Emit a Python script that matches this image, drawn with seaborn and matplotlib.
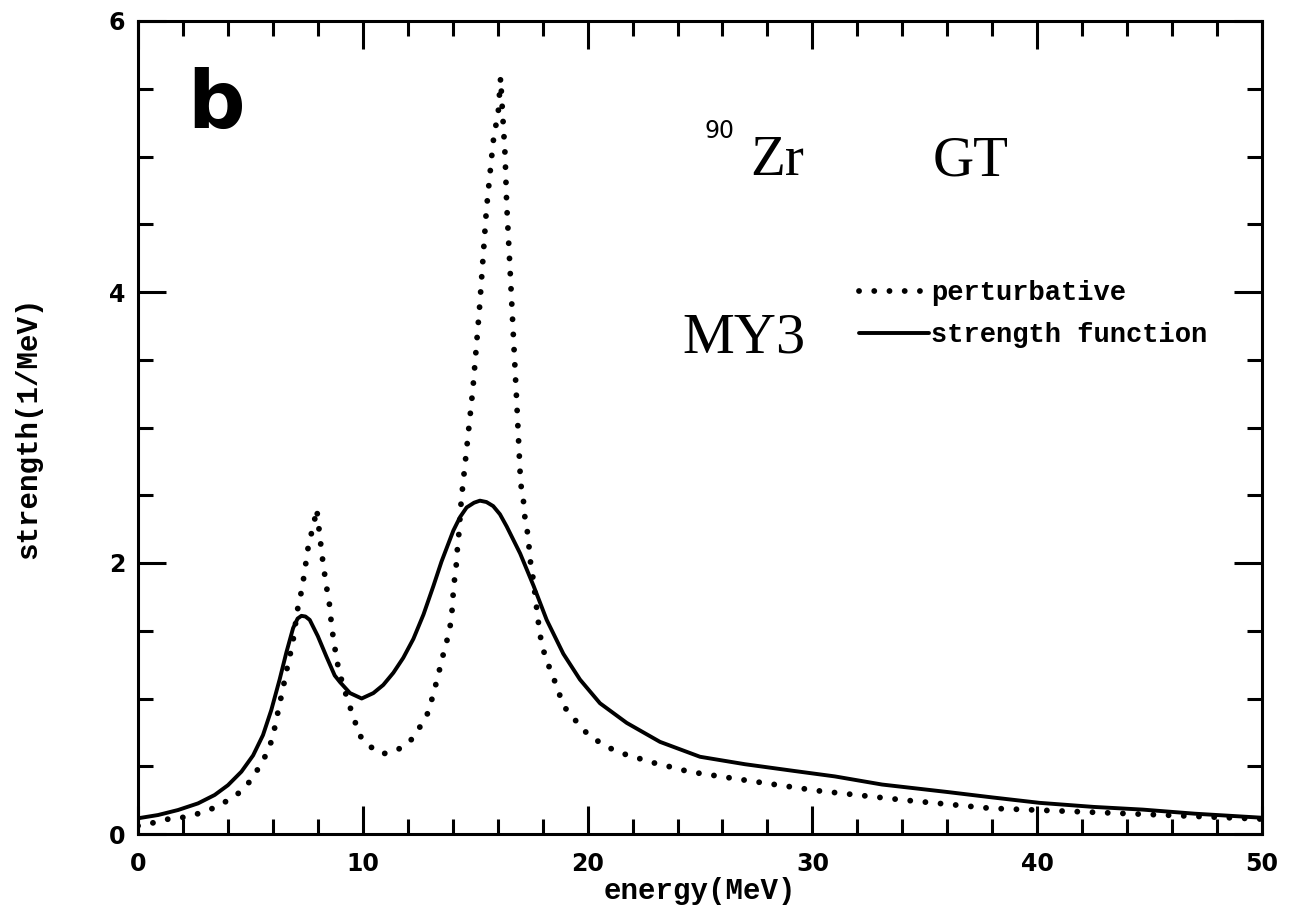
"""90Zr GT strength: perturbative vs strength function (MY3)."""
import matplotlib
matplotlib.use("Agg")
import matplotlib.pyplot as plt
from matplotlib.ticker import MultipleLocator
import seaborn as sns

# strength function (solid)
sf_energy = [0, 0.89, 1.78, 2.67, 3.41, 4.0, 4.6, 5.12, 5.56, 5.93, 6.3, 6.6,
             6.9, 7.1, 7.27, 7.45, 7.64, 8.0, 8.38, 8.75, 8.99, 9.43, 9.95, 10.47,
             10.91, 11.36, 11.8, 12.25, 12.7, 13.14, 13.5, 14.03, 14.33, 14.62,
             14.95, 15.21, 15.5, 15.8, 16.1, 16.4, 17.0, 17.6, 18.18, 18.92, 19.66,
             20.55, 21.74, 23.22, 25.0, 27.0, 29.2, 31.0, 33.1, 36.0, 38.0, 40.1,
             42.5, 44.7, 47.0, 50.0]
sf_strength = [0.116, 0.14, 0.177, 0.226, 0.288, 0.36, 0.46, 0.58, 0.73, 0.915,
               1.14, 1.34, 1.52, 1.59, 1.61, 1.605, 1.58, 1.46, 1.31, 1.17, 1.12,
               1.04, 1.00, 1.04, 1.10, 1.19, 1.30, 1.44, 1.62, 1.83, 2.01, 2.24,
               2.34, 2.41, 2.445, 2.46, 2.45, 2.42, 2.36, 2.27, 2.07, 1.83, 1.58,
               1.33, 1.14, 0.965, 0.82, 0.68, 0.57, 0.515, 0.465, 0.425, 0.365,
               0.31, 0.27, 0.23, 0.20, 0.18, 0.15, 0.12]

# perturbative (dotted)
pt_energy = [0, 0.59, 1.26, 1.93, 2.67, 3.34, 3.97, 4.55, 5.04, 5.41, 5.78, 6.0,
             6.15, 6.3, 6.45, 6.6, 6.75, 6.9, 7.12, 7.27, 7.4, 7.5, 7.6, 7.8, 7.95,
             8.1, 8.2, 8.3, 8.41, 8.53, 8.6, 8.7, 8.82, 8.94, 9.37, 9.61, 9.82,
             10.28, 10.87, 11.54, 12.13, 12.54, 12.9, 13.1, 13.29, 13.46, 13.63,
             13.83, 13.95, 14.0, 14.06, 14.15, 14.2, 14.27, 14.37, 14.44, 14.6,
             14.9, 15.2, 15.5, 15.8, 16.03, 16.13, 16.2, 16.33, 16.4, 16.55, 16.7,
             16.85, 17.02, 17.14, 17.2, 17.32, 17.4, 17.47, 17.59, 17.76, 17.85,
             17.97, 18.2, 18.47, 18.7, 18.98, 19.4, 19.9, 20.5, 21.1, 21.8, 22.45,
             23.15, 23.84, 24.5, 27.3, 30.2, 34.1, 37.9, 41.8, 45.6, 50.0]
pt_strength = [0.06, 0.079, 0.108, 0.12, 0.15, 0.19, 0.245, 0.31, 0.40, 0.50,
               0.61, 0.72, 0.84, 0.96, 1.075, 1.20, 1.31, 1.43, 1.68, 1.79, 1.92,
               2.04, 2.15, 2.27, 2.40, 2.18, 2.04, 1.92, 1.80, 1.68, 1.555, 1.43,
               1.31, 1.20, 0.965, 0.855, 0.735, 0.65, 0.59, 0.62, 0.69, 0.79,
               0.895, 1.01, 1.13, 1.245, 1.36, 1.48, 1.60, 1.73, 1.85, 1.97, 2.09,
               2.21, 2.44, 2.56, 2.81, 3.29, 3.90, 4.61, 5.11, 5.34, 5.58, 5.37,
               5.01, 4.65, 4.17, 3.67, 3.18, 2.59, 2.47, 2.35, 2.23, 2.11, 1.99,
               1.87, 1.63, 1.51, 1.39, 1.27, 1.16, 1.05, 0.935, 0.85, 0.755, 0.68,
               0.625, 0.58, 0.55, 0.515, 0.49, 0.46, 0.39, 0.32, 0.25, 0.19, 0.165,
               0.14, 0.11]

W, H = 1298, 908
L, R, T, B = 138, 1262, 21, 834


def fx(px):
    return (px - L) / (R - L)


def fy(py):
    return (B - py) / (B - T)


sns.set_theme(style="ticks")
plt.rcParams["font.family"] = ["DejaVu Sans"]

fig = plt.figure(figsize=(W / 100, H / 100), dpi=100)
ax = fig.add_axes([L / W, 1 - B / H, (R - L) / W, (B - T) / H])

sns.lineplot(x=pt_energy, y=pt_strength, ax=ax, color="black", lw=4.2,
             linestyle=(0, (0.01, 2.6)), dash_capstyle="round",
             label="perturbative")
sns.lineplot(x=sf_energy, y=sf_strength, ax=ax, color="black", lw=2.8,
             solid_joinstyle="round", label="strength function")

ax.set_xlim(0, 50)
ax.set_ylim(0, 6)
ax.xaxis.set_major_locator(MultipleLocator(10))
ax.xaxis.set_minor_locator(MultipleLocator(2))
ax.yaxis.set_major_locator(MultipleLocator(2))
ax.yaxis.set_minor_locator(MultipleLocator(0.5))
ax.tick_params(which="both", direction="in", top=True, right=True,
               width=2.2, color="black")
ax.tick_params(which="major", length=20)
ax.tick_params(which="minor", length=11)
ax.tick_params(axis="x", which="major", pad=13)
ax.tick_params(axis="y", which="major", pad=9)
for lab in ax.get_xticklabels() + ax.get_yticklabels():
    lab.set_fontweight("bold")
    lab.set_fontsize(17)
    lab.set_color("black")
for sp in ax.spines.values():
    sp.set_linewidth(2.2)
    sp.set_color("black")

lab_font = dict(family="Liberation Mono", weight="bold", size=21, color="black")
ax.set_xlabel("energy(MeV)", labelpad=1, **lab_font)
ax.set_ylabel("strength(1/MeV)", labelpad=48, **lab_font)

ax.text(fx(187), fy(128), "b", transform=ax.transAxes, ha="left",
        va="baseline", fontsize=58, fontweight="bold", color="black")
ax.text(fx(705), fy(138), "90", transform=ax.transAxes, ha="left",
        va="baseline", fontsize=17, color="black")
serif = dict(family="Liberation Serif", color="black")
ax.text(fx(750), fy(175), "Zr", transform=ax.transAxes, ha="left",
        va="baseline", fontsize=41, **serif)
ax.text(fx(933), fy(175), "GT", transform=ax.transAxes, ha="left",
        va="baseline", fontsize=41, **serif)
ax.text(fx(682), fy(352), "MY3", transform=ax.transAxes, ha="left",
        va="baseline", fontsize=42, **serif)

ax.legend(loc="upper left", bbox_to_anchor=(fx(859), fy(280)), frameon=False,
          borderpad=0, borderaxespad=0, handlelength=2.6, handletextpad=0.05,
          labelspacing=0.6, labelcolor="black",
          prop=dict(family="Liberation Mono", weight="bold", size=19.5))

fig.savefig("out.png", dpi=100)
